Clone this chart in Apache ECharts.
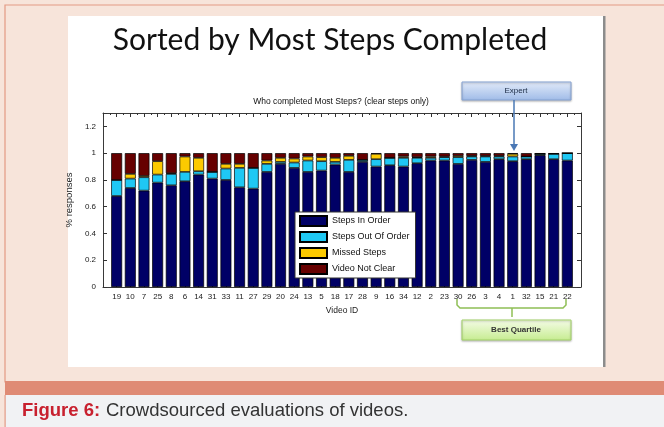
<!DOCTYPE html>
<html>
<head>
<meta charset="utf-8">
<script src="https://cdn.jsdelivr.net/npm/echarts@6/dist/echarts.min.js"></script>
<style>
html,body{margin:0;padding:0;background:#f7e4da}
#chart{width:664px;height:427px}
</style>
</head>
<body>
<div id="chart"></div>
<script>
// video ids, sorted by most steps completed
const videoIds = ['19','10','7','25','8','6','14','31','33','11','27','29','20','24','13','5','18','17','28','9','16','34','12','2','23','30','26','3','4','1','32','15','21','22'];
const stepsInOrder = [0.68,0.74,0.72,0.78,0.76,0.79,0.84,0.81,0.80,0.745,0.735,0.86,0.92,0.89,0.86,0.87,0.915,0.86,0.935,0.90,0.91,0.90,0.925,0.945,0.945,0.92,0.95,0.935,0.955,0.94,0.955,0.985,0.955,0.945];
const stepsOutOfOrder = [0.12,0.07,0.10,0.06,0.085,0.07,0.025,0.05,0.085,0.145,0.155,0.06,0.015,0.04,0.085,0.07,0.02,0.09,0.015,0.055,0.055,0.065,0.04,0.02,0.025,0.05,0.025,0.04,0.02,0.035,0.02,0.01,0.04,0.055];
const missedSteps = [0,0.035,0.01,0.10,0.005,0.115,0.10,0,0.035,0.03,0,0.025,0.03,0.03,0.03,0.03,0.03,0.03,0,0.04,0,0.01,0.005,0.01,0.005,0.01,0.005,0.005,0.005,0.02,0,0,0,0];
const videoNotClear = [0.20,0.155,0.17,0.06,0.15,0.025,0.035,0.14,0.08,0.08,0.11,0.055,0.035,0.04,0.025,0.03,0.035,0.02,0.05,0.005,0.035,0.025,0.03,0.025,0.025,0.02,0.02,0.02,0.02,0.005,0.025,0.005,0.005,0];
const yTicks = [0, 0.2, 0.4, 0.6, 0.8, 1, 1.2];

const font = 'Liberation Sans, Arial, sans-serif';
const chart = echarts.init(document.getElementById('chart'));

// matlab style: xlim [0, n+1], so the bar grid sits half a slot inside the frame
const frame = { left: 103, top: 113, width: 478, height: 174 };
const slot = frame.width / (videoIds.length + 1);

function bar(name, values, color) {
  return {
    name: name,
    type: 'bar',
    stack: 'all',
    barWidth: '80%',
    xAxisIndex: 0,
    yAxisIndex: 0,
    data: values,
    itemStyle: { color: color, borderColor: '#000', borderWidth: 0.7 },
    emphasis: { disabled: true }
  };
}

const tickStyle = { show: true, inside: true, length: 4, lineStyle: { color: '#333' } };
const lineStyle = { show: true, onZero: false, lineStyle: { color: '#3a3a3a', width: 1 } };

chart.setOption({
  animation: false,
  backgroundColor: '#f7e4da',
  grid: [
    { left: frame.left + slot / 2, top: frame.top, width: frame.width - slot, height: frame.height },
    frame
  ],
  legend: {
    orient: 'vertical',
    left: 295, top: 212,
    itemWidth: 27, itemHeight: 10, itemGap: 4,
    padding: [3, 6, 3, 4],
    backgroundColor: '#fff',
    borderColor: '#333', borderWidth: 1,
    icon: 'rect',
    textStyle: { fontSize: 9, color: '#111', fontFamily: font },
    data: ['Steps In Order', 'Steps Out Of Order', 'Missed Steps', 'Video Not Clear']
  },
  xAxis: [{
    gridIndex: 0, type: 'category', data: videoIds,
    axisLine: { show: false }, axisTick: { show: false }, splitLine: { show: false },
    axisLabel: { fontSize: 8, color: '#1a1a1a', fontFamily: font, margin: 6, interval: 0 },
    name: 'Video ID', nameLocation: 'middle', nameGap: 19,
    nameTextStyle: { fontSize: 8.5, color: '#1a1a1a', fontFamily: font }
  }, {
    gridIndex: 1, type: 'value', position: 'bottom', min: 0, max: 35, interval: 1,
    axisLine: lineStyle, axisTick: tickStyle,
    splitLine: { show: false }, axisLabel: { show: false }
  }, {
    gridIndex: 1, type: 'value', position: 'top', min: 0, max: 35, interval: 1,
    axisLine: lineStyle, axisTick: tickStyle,
    minorTick: { show: true, splitNumber: 2, length: 2, lineStyle: { color: '#333' } },
    splitLine: { show: false }, axisLabel: { show: false }
  }],
  yAxis: [{
    gridIndex: 0, type: 'value', min: 0, max: 1.3, show: false
  }, {
    gridIndex: 1, type: 'value', position: 'left', min: 0, max: 1.3, interval: 0.2,
    axisLine: lineStyle, axisTick: tickStyle,
    splitLine: { show: false },
    axisLabel: {
      fontSize: 8, color: '#1a1a1a', fontFamily: font, margin: 7,
      formatter: v => {
        const t = yTicks.find(k => Math.abs(k - v) < 1e-6);
        return t === undefined ? '' : String(t);
      }
    },
    name: '% responses', nameLocation: 'middle', nameGap: 21, nameRotate: 90,
    nameTextStyle: { fontSize: 9.5, color: '#1a1a1a', fontFamily: font }
  }, {
    gridIndex: 1, type: 'value', position: 'right', min: 0, max: 1.3, interval: 0.2,
    axisLine: lineStyle, axisTick: tickStyle,
    splitLine: { show: false }, axisLabel: { show: false }
  }],
  series: [
    bar('Steps In Order', stepsInOrder, '#000066'),
    bar('Steps Out Of Order', stepsOutOfOrder, '#1fc8f4'),
    bar('Missed Steps', missedSteps, '#fcca00'),
    bar('Video Not Clear', videoNotClear, '#660000')
  ],
  graphic: [
    // page frame
    { type: 'rect', z: -20, shape: { x: 5, y: 5, width: 662, height: 377 },
      style: { fill: '#f7e4da', stroke: '#e39a84', lineWidth: 1.2 } },
    { type: 'rect', z: -19, shape: { x: 68, y: 16, width: 535, height: 351 }, style: { fill: '#fff' } },
    { type: 'rect', z: -19, shape: { x: 603, y: 16, width: 2.5, height: 351 }, style: { fill: '#8c8c8c' } },
    { type: 'rect', z: -19, shape: { x: 5, y: 381, width: 662, height: 14 }, style: { fill: '#df8b75' } },
    { type: 'rect', z: -19, shape: { x: 5, y: 395, width: 662, height: 34 }, style: { fill: '#f1f2f4' } },
    { type: 'rect', z: -18, shape: { x: 4.5, y: 395, width: 1.2, height: 34 }, style: { fill: '#e39a84' } },
    // titles
    { type: 'text', z: 10, style: { text: 'Sorted by Most Steps Completed', x: 330, y: 40,
      textAlign: 'center', textVerticalAlign: 'middle', font: '30px Lato, sans-serif', fill: '#111' } },
    { type: 'text', z: 10, style: { text: 'Who completed Most Steps? (clear steps only)', x: 341, y: 102,
      textAlign: 'center', textVerticalAlign: 'middle', font: '8.5px ' + font, fill: '#111' } },
    // Expert callout
    { type: 'rect', z: 10, shape: { x: 462, y: 82, width: 109, height: 18 },
      style: { fill: { type: 'linear', x: 0, y: 0, x2: 0, y2: 1,
        colorStops: [{ offset: 0, color: '#e3ebf9' }, { offset: 1, color: '#9fbbe8' }] },
        stroke: '#87a4d4', lineWidth: 1, shadowBlur: 2, shadowColor: 'rgba(0,0,0,0.25)', shadowOffsetY: 1 } },
    { type: 'text', z: 11, style: { text: 'Expert', x: 516, y: 91, textAlign: 'center', textVerticalAlign: 'middle',
      font: '8px ' + font, fill: '#1a2a44' } },
    { type: 'line', z: 10, shape: { x1: 514, y1: 100, x2: 514, y2: 146 }, style: { stroke: '#4a78b5', lineWidth: 1.5 } },
    { type: 'polygon', z: 10, shape: { points: [[510, 144], [518, 144], [514, 151]] }, style: { fill: '#4a78b5' } },
    // Best Quartile bracket
    { type: 'polyline', z: 10, shape: { points: [[457, 299], [457, 305], [460, 308], [563, 308], [566, 305], [566, 299]] },
      style: { stroke: '#8fbf55', lineWidth: 1.5, fill: null } },
    { type: 'line', z: 10, shape: { x1: 512, y1: 308, x2: 512, y2: 317 }, style: { stroke: '#8fbf55', lineWidth: 1.5 } },
    { type: 'rect', z: 10, shape: { x: 462, y: 320, width: 109, height: 20 },
      style: { fill: { type: 'linear', x: 0, y: 0, x2: 0, y2: 1,
        colorStops: [{ offset: 0, color: '#f5fce8' }, { offset: 1, color: '#c6ec90' }] },
        stroke: '#a5d46a', lineWidth: 1, shadowBlur: 2, shadowColor: 'rgba(0,0,0,0.25)', shadowOffsetY: 1 } },
    { type: 'text', z: 11, style: { text: 'Best Quartile', x: 516, y: 330, textAlign: 'center', textVerticalAlign: 'middle',
      font: 'bold 8px ' + font, fill: '#333' } },
    // caption
    { type: 'text', z: 10, style: { text: 'Figure 6:', x: 22, y: 411, textVerticalAlign: 'middle',
      font: 'bold 18.5px ' + font, fill: '#c8202e' } },
    { type: 'text', z: 10, style: { text: 'Crowdsourced evaluations of videos.', x: 106, y: 411, textVerticalAlign: 'middle',
      font: '18.5px ' + font, fill: '#333' } }
  ]
});
</script>
</body>
</html>
